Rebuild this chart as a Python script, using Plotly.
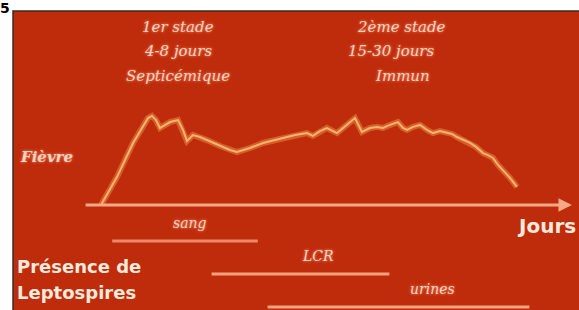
import plotly.graph_objects as go

# ---------------- data ----------------
# fever curve: day since onset, temperature (°C)
jours = [0, 1.14, 2.29, 3.36, 3.64, 3.93, 4.21, 4.64, 4.93, 5.5, 5.86, 6.14, 6.57, 7.07,
         7.57, 8.5, 9.21, 9.71, 10.64, 11.57, 12.79, 13.86, 14.71, 15.14, 15.64, 16.14,
         16.86, 17.43, 18.14, 18.64, 19.21, 19.71, 20.14, 20.64, 21.21, 21.57, 21.86,
         22.29, 22.79, 23.29, 23.71, 24.21, 24.71, 25.07, 25.43, 25.86, 26.36, 26.79,
         27.29, 27.64, 28.0, 28.36, 28.71, 29.21, 29.71]
temperature = [37.0, 38.27, 39.82, 40.95, 41.05, 40.86, 40.5, 40.68, 40.77, 40.86, 40.41,
               39.91, 40.18, 40.09, 39.95, 39.68, 39.5, 39.41, 39.59, 39.82, 40.0, 40.18,
               40.27, 40.14, 40.36, 40.5, 40.27, 40.59, 40.95, 40.32, 40.5, 40.55, 40.5,
               40.64, 40.77, 40.5, 40.41, 40.55, 40.64, 40.41, 40.27, 40.36, 40.27, 40.23,
               40.09, 39.95, 39.82, 39.64, 39.36, 39.27, 39.14, 38.82, 38.59, 38.23, 37.82]

# presence of leptospires (start day, end day)
prelevements = ["sang", "LCR", "urines"]
debut = [0.8, 7.9, 11.9]
fin = [11.2, 20.6, 30.6]

stade1 = ["1er stade", "4-8 jours", "Septicémique"]
stade2 = ["2ème stade", "15-30 jours", "Immun"]

# ---------------- figure ----------------
W, H = 579, 310
BG = "#BF2C0C"
TXT = "#F7D3C2"
GLOW = "0px 0px 3px #FF9A70"

fig = go.Figure()

# fever curve glow + line
fig.add_trace(go.Scatter(x=jours, y=temperature, mode="lines",
                         line=dict(color="rgba(255,190,110,0.35)", width=6),
                         hoverinfo="skip", showlegend=False))
fig.add_trace(go.Scatter(x=jours, y=temperature, mode="lines",
                         line=dict(color="#FBB56A", width=2),
                         showlegend=False))

# presence lines
line_cols = ["#E9896A", "#F5A27E", "#F5A27E"]
for i, (d, f) in enumerate(zip(debut, fin)):
    fig.add_trace(go.Scatter(x=[d, f], y=[i, i], yaxis="y2", mode="lines",
                             line=dict(color=line_cols[i], width=3),
                             showlegend=False))

# label positions (layout)
lab_x = [6.36, 15.5, 23.7]
for i, name in enumerate(prelevements):
    fig.add_annotation(x=lab_x[i], y=i - 0.54, xref="x", yref="y2", text=name,
                       showarrow=False, xanchor="center",
                       font=dict(family="DejaVu Serif", size=14, color=TXT,
                                 style="italic", shadow=GLOW))

# background panel
fig.add_shape(type="rect", xref="paper", yref="paper",
              x0=13 / W, x1=1.02, y0=-0.02, y1=1 - 11 / H,
              fillcolor=BG, line=dict(color="#3A2A25", width=1.5), layer="below")

# time axis arrow
fig.add_annotation(x=33.64, y=37.0, ax=-1.21, ay=37.0, xref="x", yref="y",
                   axref="x", ayref="y", text="", showarrow=True,
                   arrowhead=2, arrowsize=0.9, arrowwidth=3, arrowcolor="#F7A985")

# stage texts
ys = [27, 51, 76]
for t, yy in zip(stade1, ys):
    fig.add_annotation(x=178 / W, y=1 - yy / H, xref="paper", yref="paper", text=t,
                       showarrow=False, xanchor="center", yanchor="middle",
                       font=dict(family="DejaVu Serif", size=15, color=TXT,
                                 style="italic", shadow=GLOW))
xs2 = [401, 391, 402]
for t, xx, yy in zip(stade2, xs2, ys):
    fig.add_annotation(x=xx / W, y=1 - yy / H, xref="paper", yref="paper", text=t,
                       showarrow=False, xanchor="center", yanchor="middle",
                       font=dict(family="DejaVu Serif", size=15, color=TXT,
                                 style="italic", shadow=GLOW))

fig.add_annotation(x=46 / W, y=1 - 157 / H, xref="paper", yref="paper", text="Fièvre",
                   showarrow=False, xanchor="center", yanchor="middle",
                   font=dict(family="DejaVu Serif", size=15, color=TXT,
                             style="italic", weight="bold", shadow=GLOW))

fig.add_annotation(x=546 / W, y=1 - 226 / H, xref="paper", yref="paper", text="Jours",
                   showarrow=False, xanchor="center", yanchor="middle",
                   font=dict(family="DejaVu Sans", size=20, color="#FBEADB", weight="bold"))
fig.add_annotation(x=15 / W, y=1 - 266 / H, xref="paper", yref="paper", text="Présence de",
                   showarrow=False, xanchor="left", yanchor="middle",
                   font=dict(family="DejaVu Sans", size=18, color="#FBEADB", weight="bold"))
fig.add_annotation(x=15 / W, y=1 - 292 / H, xref="paper", yref="paper", text="Leptospires",
                   showarrow=False, xanchor="left", yanchor="middle",
                   font=dict(family="DejaVu Sans", size=18, color="#FBEADB", weight="bold"))

# figure number in the corner
fig.add_annotation(x=0, y=1, xref="paper", yref="paper", text="5",
                   showarrow=False, xanchor="left", yanchor="top", borderpad=0,
                   xshift=-1, yshift=1,
                   font=dict(family="DejaVu Sans", size=14, color="black", weight="bold"))

x0 = -101 / 14
x1 = (W - 101) / 14
fig.update_layout(
    width=W, height=H, margin=dict(l=0, r=0, t=0, b=0),
    paper_bgcolor="white", plot_bgcolor="rgba(0,0,0,0)",
    xaxis=dict(range=[x0, x1], visible=False, domain=[0, 1]),
    yaxis=dict(range=[37 - 105 / 22, 37 + 205 / 22], visible=False, domain=[0, 1]),
    yaxis2=dict(range=[2.0909, -7.3030], visible=False, overlaying="y"),
)

fig.write_html("out.html", config={"displayModeBar": False},
               post_script="document.body.style.margin='0';document.body.style.overflow='hidden';")
